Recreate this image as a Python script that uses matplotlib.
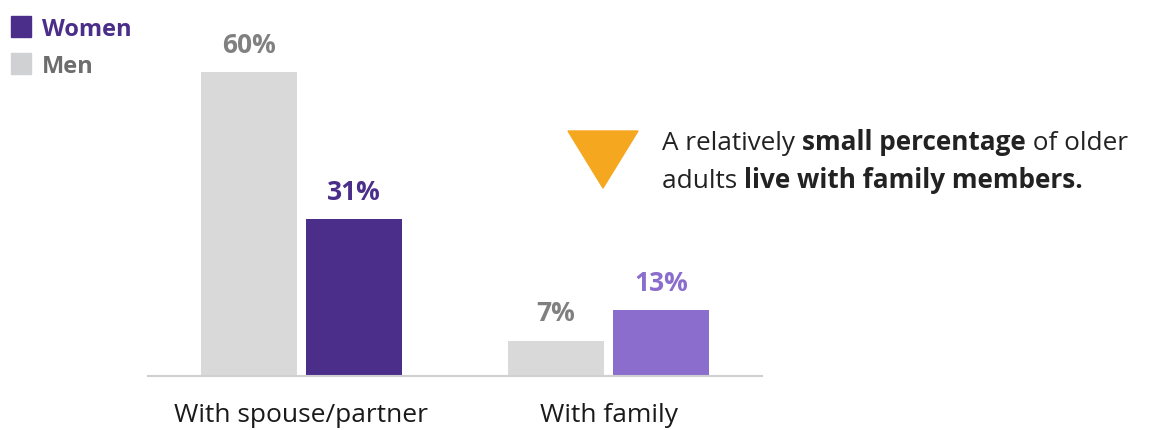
import matplotlib
matplotlib.use("Agg")
import matplotlib.pyplot as plt
from matplotlib.patches import Polygon, Rectangle

plt.rcParams['font.family'] = ['Open Sans', 'DejaVu Sans']

categories = ["With spouse/partner", "With family"]
men = [60, 7]
women = [31, 13]
women_colors = ["#4b2e8a", "#8a6dcc"]
men_color = "#d9d9d9"
men_label_color = "#808080"

W, H = 1152, 430
fig = plt.figure(figsize=(W / 100, H / 100), dpi=100)
ax = fig.add_axes([148 / W, 54 / H, (762 - 148) / W, (H - 54) / H])


def px(x, y):
    return x / W, 1 - y / H


offset = 0.171
width = 0.313
xs = range(len(categories))
for i in xs:
    ax.bar(i - offset, men[i], width=width, color=men_color)
    ax.bar(i + offset, women[i], width=width, color=women_colors[i])
    ax.text(i - offset, men[i] + 3.8, f"{men[i]}%", ha="center", va="baseline",
            fontsize=19, fontweight="bold", color=men_label_color)
    ax.text(i + offset, women[i] + 3.8, f"{women[i]}%", ha="center", va="baseline",
            fontsize=19, fontweight="bold", color=women_colors[i])

ax.set_xlim(-0.5, 1.5)
ax.set_ylim(0, 74.2)
for s in ["top", "right", "left"]:
    ax.spines[s].set_visible(False)
ax.spines["bottom"].set_color("#d0d0d0")
ax.spines["bottom"].set_linewidth(1.5)
ax.set_yticks([])
ax.set_xticks([])

# category labels, baseline placed below the axis line
for i in xs:
    ax.annotate(categories[i], xy=(i, 0), xycoords="data",
                xytext=(0, -46 * 0.72), textcoords="offset points",
                ha="center", va="baseline", fontsize=19, color="#1a1a1a")

# legend
for (label, color, tcolor), (ytop, ybase) in zip(
        [("Women", "#4b2e8a", "#4b2e8a"), ("Men", "#d0d1d3", "#6d6d6d")],
        [(16, 36), (53, 73)]):
    fig.patches.append(Rectangle(px(11, ytop + 21), 20 / W, 21 / H, color=color,
                                 transform=fig.transFigure))
    fig.text(*px(42, ybase), label, fontsize=17, fontweight="bold", color=tcolor,
             ha="left", va="baseline")

# callout triangle
tri = Polygon([px(568, 131), px(638, 131), px(603, 188)], closed=True,
              color="#f5a81f", transform=fig.transFigure)
fig.patches.append(tri)

# callout text with mixed weights
lines = [
    [("A relatively ", "normal"), ("small percentage", "bold"), (" of older", "normal")],
    [("adults ", "normal"), ("live with family members.", "bold")],
]
fig.canvas.draw()
renderer = fig.canvas.get_renderer()
for line, y in zip(lines, [150, 188]):
    x = 662
    for txt, wt in line:
        t = fig.text(*px(x, y), txt, fontsize=18.8, fontweight=wt, color="#222222",
                     ha="left", va="baseline")
        bb = t.get_window_extent(renderer=renderer)
        x += bb.width

fig.savefig("out.png", dpi=100, facecolor="white")
